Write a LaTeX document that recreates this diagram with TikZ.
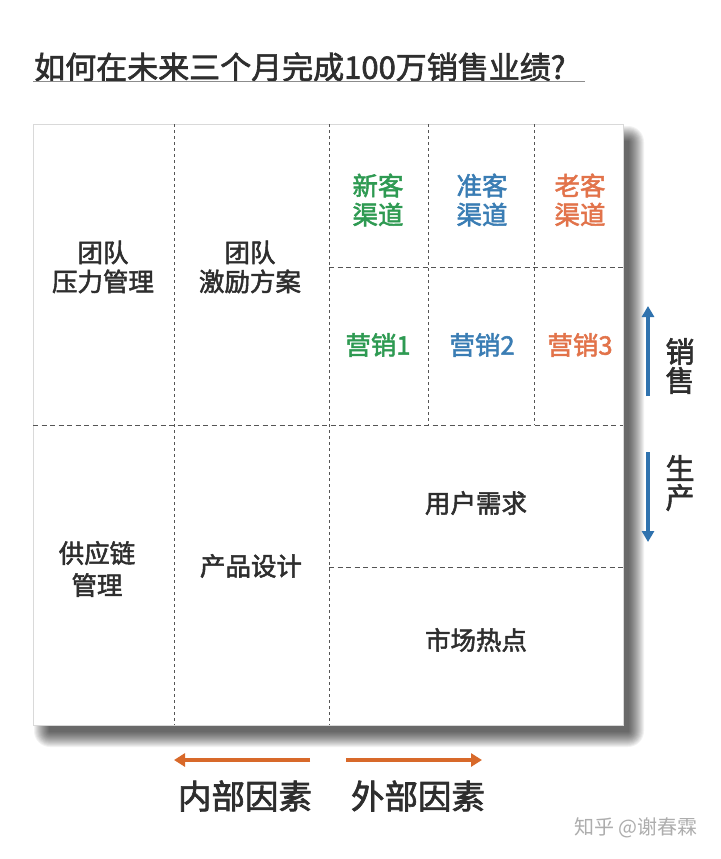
\documentclass[tikz,border=0pt]{standalone}
\usepackage{fontspec}
\newfontfamily\cjk[FakeBold=2]{Noto Sans CJK SC}
\newfontfamily\cjklight{Noto Sans CJK SC}
\usetikzlibrary{arrows.meta}
\definecolor{txt}{HTML}{2E2E2E}
\definecolor{cgreen}{HTML}{2E9A52}
\definecolor{cblue}{HTML}{3A7DB4}
\definecolor{corange}{HTML}{E2734A}
\definecolor{ablue}{HTML}{2F72AE}
\definecolor{aorange}{HTML}{D8692A}
\definecolor{grid}{HTML}{555555}
\tikzset{
  lbl/.style={font=\cjk\fontsize{25.5}{29}\selectfont, text=txt, align=center, inner sep=0pt},
  hdash/.style={draw=grid, line width=0.8pt, dash pattern=on 5pt off 3.5pt},
  vdash/.style={draw=grid, line width=0.8pt, dash pattern=on 3pt off 3pt},
  sidelbl/.style={font=\cjk\fontsize{29}{29}\selectfont, text=txt, align=center, inner sep=0pt},
  botlbl/.style={font=\cjk\fontsize{33.5}{34}\selectfont, text=txt, inner sep=0pt},
  barrow/.style={draw=ablue, line width=3.5pt, -{Triangle[length=11pt,width=12pt]}},
  oarrow/.style={draw=aorange, line width=4.5pt, -{Triangle[length=11pt,width=13pt]}},
  shadowlayer/.style={fill=black, fill opacity=0.05, draw=none},
}
\begin{document}
\begin{tikzpicture}[x=1pt,y=-1pt]
\useasboundingbox[fill=white] (0,0) rectangle (720,859);
% title
\node[font=\cjk\fontsize{31}{32}\selectfont, text=txt, anchor=west, inner sep=0pt] (title) at (34,67) {如何在未来三个月完成100万销售业绩?};
\draw[draw=black!45, line width=0.8pt] (33,81) coordinate (ul1) -- (585,81) coordinate (ul2);
% soft shadow
\foreach \i in {1,...,16} {
  \fill[shadowlayer, rounded corners=\i pt] (50-\i,142-\i) rectangle (628+\i,731+\i);
}
% board
\node[draw=black!15, fill=white, line width=0.6pt, minimum width=590pt, minimum height=601pt, inner sep=0pt, anchor=north west] (board) at (33,124) {};
% grid lines
\coordinate (v1t) at (174,124); \coordinate (v1b) at (174,725);
\coordinate (v2t) at (329,124); \coordinate (v2b) at (329,725);
\coordinate (v3t) at (428,124); \coordinate (v3b) at (428,425);
\coordinate (v4t) at (534,124); \coordinate (v4b) at (534,425);
\coordinate (h1l) at (33,425); \coordinate (h1r) at (623,425);
\coordinate (h2l) at (329,267); \coordinate (h2r) at (623,267);
\coordinate (h3l) at (329,567); \coordinate (h3r) at (623,567);
\path[vdash] (v1t) -- (v1b);
\path[vdash] (v2t) -- (v2b);
\path[vdash] (v3t) -- (v3b);
\path[vdash] (v4t) -- (v4b);
\path[hdash] (h1l) -- (h1r);
\path[hdash] (h2l) -- (h2r);
\path[hdash] (h3l) -- (h3r);
% labels
\node[lbl] (tpm) at (103,267) {团队\\压力管理};
\node[lbl] (tim) at (250,267) {团队\\激励方案};
\node[lbl, text=cgreen] (xk) at (378,200) {新客\\渠道};
\node[lbl, text=cblue] (zk) at (482,200) {准客\\渠道};
\node[lbl, text=corange] (lk) at (580,200) {老客\\渠道};
\node[lbl, text=cgreen] (yx1) at (378,345) {营销1};
\node[lbl, text=cblue] (yx2) at (482,345) {营销2};
\node[lbl, text=corange] (yx3) at (580,345) {营销3};
\node[lbl, font=\cjk\fontsize{25.5}{32}\selectfont] (gyl) at (97,569) {供应链\\管理};
\node[lbl] (cp) at (251,566) {产品设计};
\node[lbl] (yh) at (476,503) {用户需求};
\node[lbl] (sc) at (476,640) {市场热点};
% side arrows
\coordinate (sa1) at (648,396); \coordinate (sa2) at (648,306);
\coordinate (sb1) at (648,452); \coordinate (sb2) at (648,542);
\draw[barrow] (sa1) -- (sa2);
\draw[barrow] (sb1) -- (sb2);
\node[sidelbl] (xs) at (680,366) {销\\售};
\node[sidelbl] (sca) at (680,483) {生\\产};
% bottom arrows
\coordinate (ba1) at (310,760); \coordinate (ba2) at (174,760);
\coordinate (bb1) at (346,760); \coordinate (bb2) at (482,760);
\draw[oarrow] (ba1) -- (ba2);
\draw[oarrow] (bb1) -- (bb2);
\node[botlbl] (nb) at (245,796) {内部因素};
\node[botlbl] (wb) at (418,796) {外部因素};
% watermark
\node[font=\cjklight\fontsize{20}{22}\selectfont, text=black!32, inner sep=0pt] (wm) at (636,828) {知乎 @谢春霖};
\end{tikzpicture}
\end{document}
